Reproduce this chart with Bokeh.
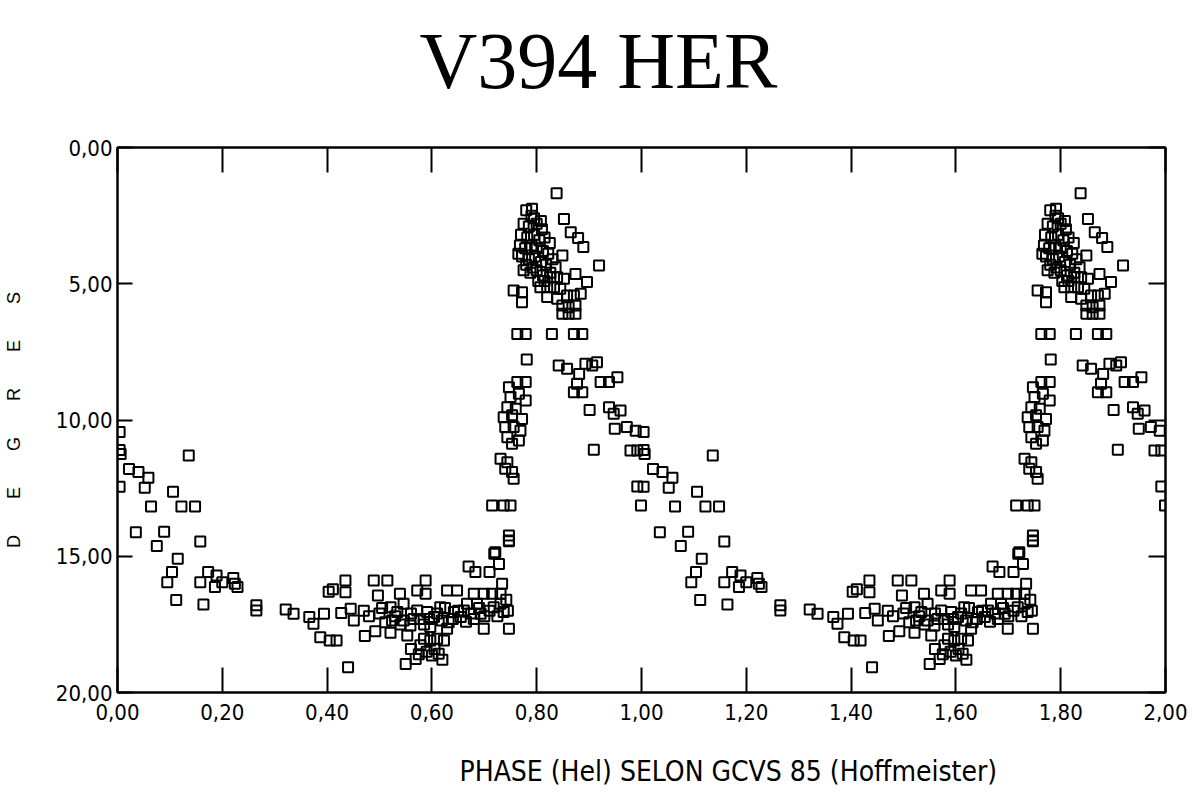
from bokeh.plotting import figure
from bokeh.models import Range1d, LinearAxis, FixedTicker, CustomJSTickFormatter, Title, ColumnDataSource
from bokeh.embed import file_html
from bokeh.resources import INLINE

title_text = "V394 HER"
x_label = "PHASE (Hel) SELON GCVS 85 (Hoffmeister)"
y_label = "D\u2003\u2003E\u2003\u2003G\u2003\u2003R\u2003\u2003E\u2003\u2003S"
x_ticks = [0.0, 0.2, 0.4, 0.6, 0.8, 1.0, 1.2, 1.4, 1.6, 1.8, 2.0]
y_ticks = [0, 5, 10, 15, 20]

# phase-folded observations (phase in [0,1)), shown twice (phase and phase + 1)
phase_edge = [0.004, 0.004, 0.006, 0.004, 0.972, 0.989, 0.979, 0.992, 0.992, 0.999]
deg_edge = [10.44, 11.10, 11.25, 12.45, 10.26, 10.39, 11.12, 11.12, 12.44, 13.14]

phase_desc = [0.022, 0.040, 0.059, 0.052, 0.064, 0.136, 0.106, 0.122, 0.148, 0.035,
              0.089, 0.075, 0.158, 0.115, 0.104, 0.095, 0.112, 0.158, 0.173, 0.164,
              0.186, 0.189, 0.200, 0.221, 0.224, 0.229, 0.265, 0.265, 0.321, 0.336,
              0.366, 0.374, 0.394, 0.387, 0.403, 0.405, 0.418]
deg_desc = [11.80, 11.91, 12.12, 12.49, 13.17, 11.30, 12.63, 13.17, 13.17, 14.12,
            14.10, 14.62, 14.46, 15.09, 15.58, 15.95, 16.61, 15.95, 15.58, 16.77,
            16.13, 15.71, 15.95, 15.80, 16.01, 16.13, 16.80, 16.99, 16.95, 17.11,
            17.23, 17.48, 17.11, 17.97, 16.30, 18.09, 18.09]

phase_min = [0.411, 0.435, 0.435, 0.427, 0.445, 0.451, 0.440, 0.472, 0.492, 0.521,
             0.489, 0.515, 0.497, 0.539, 0.572, 0.588, 0.588, 0.629, 0.648, 0.670,
             0.683, 0.710, 0.728, 0.719, 0.747, 0.734, 0.553, 0.550, 0.569, 0.578,
             0.585, 0.600, 0.613, 0.597, 0.610, 0.623, 0.680, 0.699, 0.715, 0.731,
             0.699, 0.747, 0.616, 0.642, 0.661, 0.521, 0.534, 0.546, 0.511, 0.524,
             0.546, 0.559, 0.591, 0.604, 0.619, 0.632, 0.597, 0.629, 0.578, 0.572,
             0.680, 0.693, 0.718, 0.731, 0.737, 0.667, 0.686, 0.655, 0.470, 0.480,
             0.500, 0.505, 0.530, 0.540, 0.560, 0.565, 0.585, 0.595, 0.610, 0.625,
             0.640, 0.650, 0.665, 0.675, 0.690, 0.700, 0.710, 0.725, 0.742, 0.745,
             0.605, 0.590, 0.620, 0.560, 0.575]
deg_min = [16.21, 15.89, 16.32, 17.08, 16.93, 17.36, 19.07, 17.93, 17.75, 17.81,
           15.89, 15.89, 16.44, 16.38, 16.26, 15.89, 16.38, 16.26, 16.26, 15.38,
           15.58, 15.58, 15.28, 14.91, 14.45, 16.01, 17.91, 18.95, 18.77, 18.27,
           18.03, 18.64, 18.58, 18.09, 18.03, 18.09, 16.38, 16.38, 16.38, 16.38,
           17.66, 17.66, 16.87, 17.05, 16.99, 16.87, 17.05, 16.74, 17.42, 17.36,
           17.36, 17.54, 17.05, 17.23, 17.36, 17.42, 17.60, 17.66, 17.30, 16.99,
           17.30, 17.11, 16.87, 16.74, 17.05, 16.74, 16.74, 17.23, 17.00, 17.20,
           17.10, 16.90, 17.20, 17.50, 17.10, 17.30, 17.50, 17.30, 17.10, 16.90,
           17.30, 17.00, 17.40, 17.10, 16.90, 17.20, 17.00, 17.20, 16.60, 17.00,
           18.40, 18.50, 18.80, 18.40, 18.60]

phase_rise = [0.747, 0.763, 0.779, 0.750, 0.766, 0.779, 0.744, 0.760, 0.737, 0.753,
              0.772, 0.740, 0.756, 0.769, 0.744, 0.753, 0.766, 0.781, 0.731, 0.744,
              0.740, 0.753, 0.756, 0.715, 0.737, 0.750, 0.747, 0.747, 0.721]
deg_rise = [8.80, 8.61, 8.61, 9.16, 9.04, 9.28, 9.53, 9.59, 9.90, 9.83,
            9.96, 10.26, 10.26, 10.39, 10.63, 10.87, 10.75, 7.78, 11.42, 11.55,
            11.79, 11.91, 12.16, 13.14, 13.14, 13.14, 14.24, 14.42, 14.85]

phase_peak = [0.763, 0.779, 0.829, 0.871, 0.887, 0.838, 0.791, 0.852, 0.865, 0.879,
              0.889, 0.919, 0.849, 0.874, 0.896, 0.836, 0.826, 0.839, 0.852, 0.807,
              0.820, 0.833, 0.845, 0.858, 0.871, 0.884, 0.820, 0.839, 0.849, 0.861,
              0.874, 0.849, 0.861, 0.874, 0.756, 0.772, 0.772,
              0.780, 0.790, 0.775, 0.785, 0.800, 0.810, 0.770, 0.782, 0.795, 0.805,
              0.815, 0.825, 0.768, 0.778, 0.790, 0.800, 0.812, 0.822, 0.772, 0.785,
              0.797, 0.808, 0.818, 0.830, 0.775, 0.788, 0.800, 0.812, 0.795, 0.808,
              0.765, 0.780, 0.792, 0.803, 0.815, 0.826]
deg_peak = [6.84, 6.84, 6.84, 6.84, 6.84, 1.68, 2.25, 2.62, 3.11, 3.32,
            3.65, 4.33, 3.96, 4.64, 4.94, 4.39, 4.76, 4.76, 4.82, 5.13,
            5.13, 5.13, 5.18, 5.43, 5.43, 5.37, 5.49, 5.55, 5.80, 5.86,
            5.80, 6.10, 6.10, 6.10, 5.25, 5.31, 5.68,
            2.30, 2.50, 2.80, 2.90, 2.80, 3.00, 3.20, 3.30, 3.20, 3.40,
            3.30, 3.50, 3.60, 3.70, 3.60, 3.70, 3.80, 3.90, 4.00, 4.10,
            4.00, 4.20, 4.30, 4.10, 4.50, 4.60, 4.50, 4.70, 2.60, 2.70,
            3.90, 4.30, 4.40, 4.90, 4.90, 4.60]

phase_fall = [0.842, 0.858, 0.893, 0.906, 0.915, 0.881, 0.877, 0.871, 0.887, 0.922,
              0.938, 0.954, 0.901, 0.938, 0.947, 0.960, 0.949, 0.909]
deg_fall = [8.00, 8.12, 7.94, 8.00, 7.88, 8.31, 8.67, 8.98, 8.98, 8.61,
            8.61, 8.43, 9.63, 9.53, 9.77, 9.65, 10.32, 11.09]

phase = phase_edge + phase_desc + phase_min + phase_rise + phase_peak + phase_fall
degrees = deg_edge + deg_desc + deg_min + deg_rise + deg_peak + deg_fall

src = ColumnDataSource(data=dict(
    x=phase + [ph + 1.0 for ph in phase],
    y=degrees + degrees,
))

p = figure(width=1190, height=797, output_backend="svg", toolbar_location=None,
           x_range=Range1d(0, 2), y_range=Range1d(20, 0),
           x_axis_location=None, y_axis_location=None,
           min_border_left=117, min_border_right=25, min_border_top=147,
           min_border_bottom=105)
p.xgrid.grid_line_color = None
p.ygrid.grid_line_color = None
p.outline_line_color = "black"
p.outline_line_width = 2
p.background_fill_color = "white"
p.border_fill_color = "white"

label_font = "DejaVu Sans Condensed"
fmt = CustomJSTickFormatter(code="return tick.toFixed(2).replace('.', ',');")
blank = CustomJSTickFormatter(code="return '';")


def style(ax, tick_in):
    ax.major_tick_in = tick_in
    ax.major_tick_out = 0
    ax.minor_tick_line_color = None
    ax.axis_line_width = 2
    ax.major_tick_line_width = 2
    ax.axis_line_color = "black"
    ax.major_tick_line_color = "black"
    ax.major_label_text_font = label_font
    ax.major_label_text_font_size = "22px"
    ax.major_label_text_color = "black"


def spacer(ax, gap):
    # invisible one-em label used only to reserve vertical room
    ax.axis_label = "\u2003"
    ax.axis_label_text_font_size = "1px"
    ax.axis_label_standoff = gap


xb = LinearAxis(ticker=FixedTicker(ticks=x_ticks), formatter=fmt)
style(xb, 25)
xb.major_label_standoff = 11
spacer(xb, 22)
p.add_layout(xb, "below")

xt = LinearAxis(ticker=FixedTicker(ticks=x_ticks), formatter=blank)
style(xt, 25)
xt.major_label_standoff = 0
xt.major_label_text_font_size = "1px"
spacer(xt, 39)
p.add_layout(xt, "above")

yl = LinearAxis(ticker=FixedTicker(ticks=y_ticks), formatter=fmt)
style(yl, 15)
yl.major_label_standoff = 5
yl.axis_label = y_label
yl.axis_label_text_font = "Liberation Sans"
yl.axis_label_text_font_size = "18px"
yl.axis_label_text_font_style = "normal"
yl.axis_label_text_color = "black"
yl.axis_label_standoff = 29
p.add_layout(yl, "left")

yr = LinearAxis(ticker=FixedTicker(ticks=y_ticks), formatter=blank)
style(yr, 17)
yr.major_label_standoff = 0
yr.major_label_text_font_size = "1px"
p.add_layout(yr, "right")

p.title.text = title_text
p.title.align = "left"
p.title.offset = 302
p.title.text_font = "Liberation Serif"
p.title.text_font_size = "80px"
p.title.text_font_style = "normal"
p.title.text_color = "black"
p.title.standoff = 0

xlab = Title(text=x_label, align="left", offset=342, text_font=label_font,
             text_font_size="28px", text_font_style="normal", text_color="black",
             standoff=9)
p.add_layout(xlab, "below")

p.scatter("x", "y", source=src, marker="square", size=10, fill_color=None,
          line_color="black", line_width=2)

open("out.html", "w").write(file_html(p, INLINE))
